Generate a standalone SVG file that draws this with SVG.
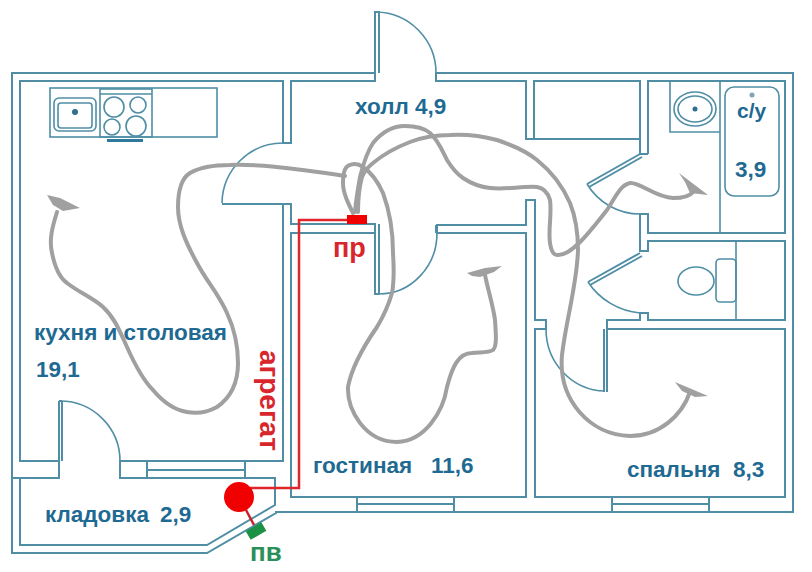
<svg xmlns="http://www.w3.org/2000/svg" width="812" height="572" viewBox="0 0 812 572">
<style>
.w{fill:none;stroke:#4f8ea5;stroke-width:2;stroke-linejoin:miter}
.t{fill:none;stroke:#4f8ea5;stroke-width:1.6}
.d{fill:none;stroke:#2f7a9b;stroke-width:3}
.g{fill:none;stroke:#a0a0a0;stroke-width:4;stroke-linecap:round;stroke-linejoin:round}
.h{fill:#a0a0a0}
.l{font-family:"Liberation Sans",Arial,sans-serif;font-weight:700;fill:#1f6a92;font-size:22.500px}
.r{font-family:"Liberation Sans",Arial,sans-serif;font-weight:700;fill:#d8262c}
</style>
<rect width="812" height="572" fill="#fff"/>
<g id="walls">
<path class="w" d="M375 73H12V553H207L276 513V512H793V73H436V81H526V139H534V81H640V154M375 73V81H291V143H283V81H20V461H59V478H12"/>
<path class="w" d="M648 154V81H785V233H648V214H640V251H648V241H785V320H648V313H640V320H607V329H785V497H535V329H546V320H535V200H526V225H437V233H526V497H291V233H375V224H291V204H283V461H120V478H275V505L207 545H20V478"/>
<path class="w" d="M640 154H648M534 139H640M283 204H222M59 401V461M62 401V461M59 401H62M375 224V294H379M379 224V294M436 225V233M607 329V392M604 329V392"/>
<path class="w" d="M640 154L587 184M642 157L589 187M640 253L588 282M642 256L590 285"/>
<path class="t" d="M222 203A61 61 0 0 1 283 143M60 401A60 60 0 0 1 120 461M376 12A61 61 0 0 1 436 73M379 294A58 61 0 0 0 437 233M587 184A62 62 0 0 0 640 214M588 282A70 70 0 0 0 640 313M546 329A60 62 0 0 0 605 391"/>
<path class="w" d="M375 73V12H379V73"/>
<path class="w" d="M147 461V478M245 461V478M147 470H245M357 497V512M454 497V512M357 504H454M612 497V512M709 497V512M612 504H709"/>
</g>
<g id="kitchen">
<rect class="t" x="50" y="88" width="167" height="49"/>
<rect class="t" x="100" y="89" width="52" height="48" stroke-width="2"/>
<path class="t" d="M100 94H152"/>
<path class="d" d="M107 140.500H143"/>
<rect class="t" x="54" y="98" width="42" height="33" rx="5"/>
<rect class="t" x="58" y="103" width="34" height="25" rx="3"/>
<circle cx="75" cy="112" r="3" fill="#2f6f8f"/>
<circle class="t" cx="114" cy="107" r="10"/>
<circle class="t" cx="138" cy="105" r="8"/>
<circle class="t" cx="112" cy="127" r="8"/>
<circle class="t" cx="136" cy="126" r="10"/>
</g>
<g id="bath">
<path class="t" d="M720 81V233M670 81V132H720"/>
<ellipse class="t" cx="695" cy="109" rx="21" ry="17"/>
<ellipse class="t" cx="695" cy="109" rx="17" ry="13"/>
<circle cx="695" cy="109" r="2.500" fill="#2f6f8f"/>
<rect class="t" x="725" y="87" width="54" height="109" rx="9"/>
<circle cx="752" cy="95" r="2.500" fill="#7fa5b5"/>
<path class="t" d="M736 241V320"/>
<rect class="t" x="716" y="259" width="20" height="43" rx="4"/>
<ellipse class="t" cx="696" cy="281" rx="18" ry="14"/>
</g>
<g id="connectors">
<path class="g" d="M57 212C52 228 49 240 52 253C55 268 60 278 67 283C80 293 93 298 103 307C115 318 120 332 127 347C135 365 143 380 153 390C163 402 175 410 187 412C198 414 208 412 217 407C230 398 238 383 238 363C238 345 234 328 227 313C218 293 207 282 197 263C186 243 178 225 178 207C178 190 182 178 190 173C202 166 216 165 230 165C255 164 285 167 345 176"/>
<path class="g" d="M353 213C348 203 343 193 343 183C343 172 345 166 350 165C355 163 359 164 363 167C372 173 378 182 383 193C390 212 393 232 393 253C394 268 394 282 392 293C388 307 383 317 377 327C368 340 352 365 348 387C347 410 365 442 397 442C425 441 443 412 447 387C452 368 458 353 472 353C480 352 489 353 493 350C497 346 496 335 495 320C493 305 488 290 485 275"/>
<path class="g" d="M355 212C356 200 358 188 360 177C363 165 367 152 373 143C382 132 393 126 405 126C416 126 424 128 430 133C438 140 442 150 447 160C452 168 457 174 463 178C472 184 480 187 490 188C505 190 522 186 537 187C544 188 548 193 550 200C552 215 548 230 550 243C551 250 553 255 557 255C572 257 595 225 607 210C615 198 620 185 630 183C640 182 655 197 673 198C683 198 690 196 693 192"/>
<path class="g" d="M358 212C358 200 359 188 362 177C364 172 368 167 373 163C385 153 397 147 410 142C423 137 437 135 450 135C467 134 482 136 497 140C512 145 526 151 537 160C552 172 563 187 570 203C576 218 578 232 578 250C577 285 566 320 562 355C558 400 590 435 630 436C660 436 682 415 690 392"/>
<polygon class="h" points="47,195 60,198 80,208 63,211 53,205"/>
<polygon class="h" points="467,273 485,268 502,266 494,272 480,277 472,276"/>
<polygon class="h" points="679,173 708,195 690,193 685,182"/>
<polygon class="h" points="675,382 708,396 695,397 682,391"/>
</g>
<g id="vent">
<path d="M347 220H299V488H250" fill="none" stroke="#e0262a" stroke-width="2.500"/>
<rect x="347" y="215" width="20" height="9" fill="#f00000"/>
<circle cx="239" cy="497" r="15" fill="#f00000"/>
<path d="M246 510L254 525" stroke="#c8202a" stroke-width="2.500"/>
<rect x="247" y="526" width="18" height="10" fill="#1a9145" transform="rotate(-30 256 531)"/>
<text class="r" x="333" y="257" font-size="27">пр</text>
<text class="r" transform="translate(260 350) rotate(90)" font-size="28">агрегат</text>
<text x="250" y="561" font-size="26" font-family="'Liberation Sans',Arial,sans-serif" font-weight="700" fill="#2a9058">пв</text>
</g>
<g id="labels">
<text class="l" x="355" y="114">холл 4,9</text>
<text class="l" x="34" y="340">кухня и столовая</text>
<text class="l" x="36" y="377">19,1</text>
<text class="l" x="313" y="473">гостиная</text>
<text class="l" x="431" y="473">11,6</text>
<text class="l" x="627" y="477">спальня</text>
<text class="l" x="733" y="477">8,3</text>
<text class="l" x="45" y="522">кладовка</text>
<text class="l" x="160" y="522">2,9</text>
<text class="l" x="737" y="118" style="font-size:21px">с/у</text>
<text class="l" x="735" y="177">3,9</text>
</g>
</svg>
